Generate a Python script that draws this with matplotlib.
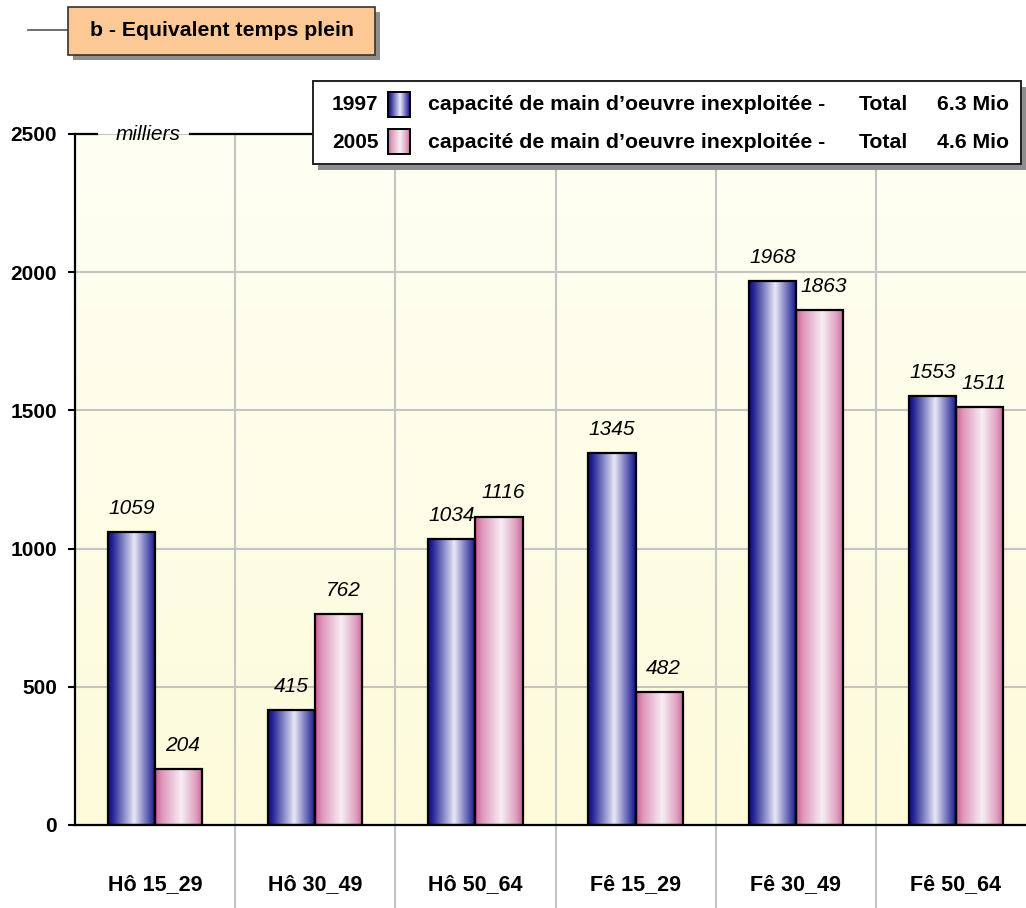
import numpy as np
import matplotlib
matplotlib.use('Agg')
import matplotlib.pyplot as plt
import matplotlib.transforms as mtransforms
from matplotlib.colors import LinearSegmentedColormap
from matplotlib.patches import Rectangle
from matplotlib.lines import Line2D

# data
categories = ['Hô 15_29', 'Hô 30_49', 'Hô 50_64', 'Fê 15_29', 'Fê 30_49', 'Fê 50_64']
v1997 = [1059, 415, 1034, 1345, 1968, 1553]
v2005 = [204, 762, 1116, 482, 1863, 1511]
years = ['1997', '2005']
legend_label = 'capacité de main d\u2019oeuvre inexploitée -'
totals = ['6.3 Mio', '4.6 Mio']
yticks = [0, 500, 1000, 1500, 2000, 2500]
title = 'b - Equivalent temps plein'

W, H = 1026, 908
plt.rcParams['font.family'] = ['Liberation Sans', 'DejaVu Sans']

blue_cm = LinearSegmentedColormap.from_list(
    'b', [(0, '#0a0a78'), (0.12, '#2f2f9c'), (0.55, '#e8e8f8'), (0.85, '#5858b0'), (1, '#101088')])
pink_cm = LinearSegmentedColormap.from_list(
    'p', [(0, '#cc5f95'), (0.15, '#df98bb'), (0.55, '#f8eef4'), (0.85, '#e0a2c1'), (1, '#c8659a')])
bg_cm = LinearSegmentedColormap.from_list('bg', ['#fdfbda', '#fffff4'])
grad = np.linspace(0, 1, 128).reshape(1, -1)


def fx(x):
    return x / W


def fy(y):
    return 1 - y / H


fig = plt.figure(figsize=(W / 100, H / 100), dpi=100)
fig.patch.set_facecolor('white')

# main axes (right side runs a bit past the figure edge)
ax = fig.add_axes([fx(75), fy(825), (1036 - 75) / W, (825 - 134) / H])
ax.set_facecolor('white')
ax.imshow(np.linspace(0, 1, 256).reshape(-1, 1), cmap=bg_cm, origin='lower',
          extent=[0, 1, 0, 1], transform=ax.transAxes, aspect='auto', zorder=0)

x = np.arange(len(categories))
w = 0.294
for vals, cm, off, dx in [(v1997, blue_cm, -w / 2, 0), (v2005, pink_cm, w / 2, 3)]:
    bars = ax.bar(x + off, vals, w, facecolor='none', edgecolor='black',
                  linewidth=1.6, zorder=3)
    for b, v in zip(bars, vals):
        ax.imshow(grad, cmap=cm, aspect='auto', zorder=2,
                  extent=[b.get_x(), b.get_x() + b.get_width(), 0, v])
        ax.annotate(str(v), (b.get_x() + b.get_width() / 2, v), xytext=(dx, 17),
                    textcoords='offset points', ha='center', va='center',
                    style='italic', fontsize=15, zorder=4)

ax.set_xlim(-0.5, 5.5)
ax.set_ylim(0, 2500)
ax.set_yticks(yticks)
ax.set_yticklabels([str(t) for t in yticks], fontweight='bold', fontsize=15)
ax.set_xticks([])
ax.tick_params(axis='y', length=5, width=1.5, direction='out', pad=8)
ax.set_axisbelow(True)
ax.yaxis.grid(True, color='#c4c4c4', linewidth=1.5)

for s in ['top', 'right']:
    ax.spines[s].set_visible(False)
for s in ['left', 'bottom']:
    ax.spines[s].set_linewidth(1.6)
    ax.spines[s].set_zorder(5)

# category separators run down through the label area
trans = mtransforms.blended_transform_factory(ax.transData, ax.transAxes)
for b in np.arange(0.5, len(categories) - 0.5, 1):
    ax.plot([b, b], [-0.13, 1], transform=trans, color='#c4c4c4', lw=1.5,
            clip_on=False, zorder=1)
for xi, c in zip(x, categories):
    ax.text(xi, -0.094, c, transform=trans, ha='center', va='baseline',
            fontweight='bold', fontsize=15.5)

# top line at 2500 with the unit label
ax.plot([0, 0.023], [1, 1], transform=ax.transAxes, color='black', lw=1.6, clip_on=False, zorder=5)
ax.plot([0.12, 1], [1, 1], transform=ax.transAxes, color='black', lw=1.6, clip_on=False, zorder=5)
ax.text(0.076, 1.0, 'milliers', transform=ax.transAxes, ha='center', va='center',
        style='italic', fontsize=15)

# title box
fig.add_artist(Line2D([fx(28), fx(68)], [fy(30), fy(30)], color='#555555', lw=1.2))
fig.add_artist(Rectangle((fx(73), fy(60)), (375 - 68) / W, (55 - 7) / H,
                         facecolor='#8e8e8e', edgecolor='none', zorder=1.9))
fig.add_artist(Rectangle((fx(68), fy(55)), (375 - 68) / W, (55 - 7) / H,
                         facecolor='#fbc896', edgecolor='#333333', lw=1.2, zorder=2))
fig.text(fx(221.5), fy(31), title, ha='center', va='center', fontweight='bold', fontsize=15.3)

# legend box
fig.add_artist(Rectangle((fx(318), fy(170)), (1021 - 313) / W, (164 - 81) / H,
                         facecolor='#8e8e8e', edgecolor='none', zorder=1.9))
fig.add_artist(Rectangle((fx(313), fy(164)), (1021 - 313) / W, (164 - 81) / H,
                         facecolor='white', edgecolor='#222222', lw=1.4, zorder=2))
rows_y = [105, 142]
for yr, tot, cm, ry in zip(years, totals, [blue_cm, pink_cm], rows_y):
    fig.text(fx(332), fy(ry), yr, ha='left', va='center', fontweight='bold', fontsize=15, zorder=3)
    fig.text(fx(428), fy(ry), legend_label, ha='left', va='center', fontweight='bold', fontsize=15.3, zorder=3)
    fig.text(fx(859), fy(ry), 'Total', ha='left', va='center', fontweight='bold', fontsize=15.3, zorder=3)
    fig.text(fx(937), fy(ry), tot, ha='left', va='center', fontweight='bold', fontsize=15.3, zorder=3)
    sw = fig.add_axes([fx(388), fy(ry + 12), 22 / W, 25 / H], zorder=5)
    sw.imshow(grad, cmap=cm, aspect='auto')
    sw.set_xticks([])
    sw.set_yticks([])
    for s in sw.spines.values():
        s.set_linewidth(1.4)

fig.savefig('out.png', dpi=100)
